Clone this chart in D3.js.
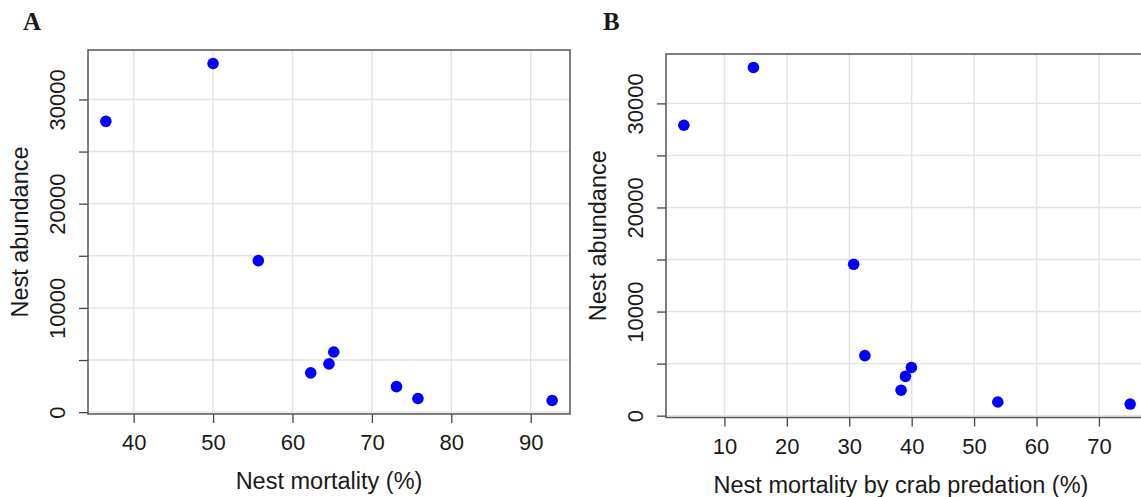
<!DOCTYPE html>
<html>
<head>
<meta charset="utf-8">
<script src="https://cdn.jsdelivr.net/npm/d3@7"></script>
<style>
  body { margin: 0; background: #fff; }
  svg text { font-family: "Liberation Sans", Arial, sans-serif; fill: #1a1a1a; }
</style>
</head>
<body>
<svg id="chart" width="1141" height="497"></svg>
<script>
// nest abundance per site, shared by both panels (same order)
const abundance = [27900, 33450, 14540, 5770, 4630, 3770, 2445, 1310, 1115];
// panel A: total nest mortality (%)
const mortality = [36.5, 50.0, 55.7, 65.2, 64.6, 62.3, 73.1, 75.8, 92.7];
// panel B: nest mortality by crab predation (%)
const crabMortality = [3.5, 14.65, 30.7, 32.5, 39.95, 39.0, 38.3, 53.8, 75.0];

const yTicks = [0, 5000, 10000, 15000, 20000, 25000, 30000];
const yLabels = [0, 10000, 20000, 30000];
const xTicksA = [40, 50, 60, 70, 80, 90];
const xTicksB = [10, 20, 30, 40, 50, 60, 70];

const svg = d3.select("#chart");

// R-style 4% padding of the data range
const pad = (ext) => {
  const d = (ext[1] - ext[0]) * 0.04;
  return [ext[0] - d, ext[1] + d];
};

function panel(opt) {
  const { left, top, w, h, xs, xTicks, letter, xTitle, xTitleCx } = opt;
  const g = svg.append("g").attr("transform", `translate(${left},${top})`);

  const x = d3.scaleLinear().domain(pad(d3.extent(xs))).range([0, w]);
  const y = d3.scaleLinear().domain(pad(d3.extent(abundance))).range([h, 0]);

  // grid
  g.append("g")
    .selectAll("line.gx")
    .data(xTicks)
    .join("line")
    .attr("x1", (d) => x(d)).attr("x2", (d) => x(d))
    .attr("y1", 0).attr("y2", h)
    .attr("stroke", "#e3e3e3").attr("stroke-width", 1.4);
  g.append("g")
    .selectAll("line.gy")
    .data(yTicks)
    .join("line")
    .attr("x1", 0).attr("x2", w)
    .attr("y1", (d) => y(d)).attr("y2", (d) => y(d))
    .attr("stroke", "#e3e3e3").attr("stroke-width", 1.4);

  // axes
  const xAxis = d3.axisBottom(x).tickValues(xTicks).tickSize(9).tickSizeOuter(0);
  const gx = g.append("g").attr("transform", `translate(0,${h})`).call(xAxis);
  gx.select(".domain").remove();
  gx.selectAll("line").attr("stroke", "#444").attr("stroke-width", 1.3);
  gx.selectAll("text")
    .attr("y", 36).attr("dy", 0)
    .attr("font-size", 22).attr("fill", "#1a1a1a");

  const yAxis = d3.axisLeft(y).tickValues(yTicks).tickSize(9).tickSizeOuter(0)
    .tickFormat((d) => (yLabels.includes(d) ? d : ""));
  const gy = g.append("g").call(yAxis);
  gy.select(".domain").remove();
  gy.selectAll("line").attr("stroke", "#444").attr("stroke-width", 1.3);
  gy.selectAll("text")
    .attr("x", 0).attr("dy", 0)
    .attr("text-anchor", "middle")
    .attr("transform", "translate(-23,0) rotate(-90)")
    .attr("font-size", 22).attr("fill", "#1a1a1a");

  // box
  g.append("rect")
    .attr("width", w).attr("height", h)
    .attr("fill", "none").attr("stroke", "#555").attr("stroke-width", 1.5);

  // points
  g.append("g")
    .selectAll("circle")
    .data(abundance)
    .join("circle")
    .attr("cx", (d, i) => x(xs[i]))
    .attr("cy", (d) => y(d))
    .attr("r", 5.8)
    .attr("fill", "#0000ff");

  // titles
  g.append("text")
    .attr("x", xTitleCx - left).attr("y", h + 75)
    .attr("text-anchor", "middle").attr("font-size", 23.5)
    .text(xTitle);
  g.append("text")
    .attr("transform", `translate(-60,${h / 2}) rotate(-90)`)
    .attr("text-anchor", "middle").attr("font-size", 23.5)
    .text("Nest abundance");

  svg.append("text")
    .attr("x", opt.letterX).attr("y", 30)
    .attr("font-family", "Liberation Serif, Times New Roman, serif")
    .attr("font-weight", "bold").attr("font-size", 25)
    .style("font-family", "'Liberation Serif', 'Times New Roman', serif")
    .text(letter);
}

panel({
  left: 88, top: 50, w: 482, h: 364, xs: mortality, xTicks: xTicksA,
  letter: "A", letterX: 23, xTitle: "Nest mortality (%)", xTitleCx: 329
});
panel({
  left: 666, top: 54, w: 482, h: 363.5, xs: crabMortality, xTicks: xTicksB,
  letter: "B", letterX: 603, xTitle: "Nest mortality by crab predation (%)", xTitleCx: 901
});
</script>
</body>
</html>
